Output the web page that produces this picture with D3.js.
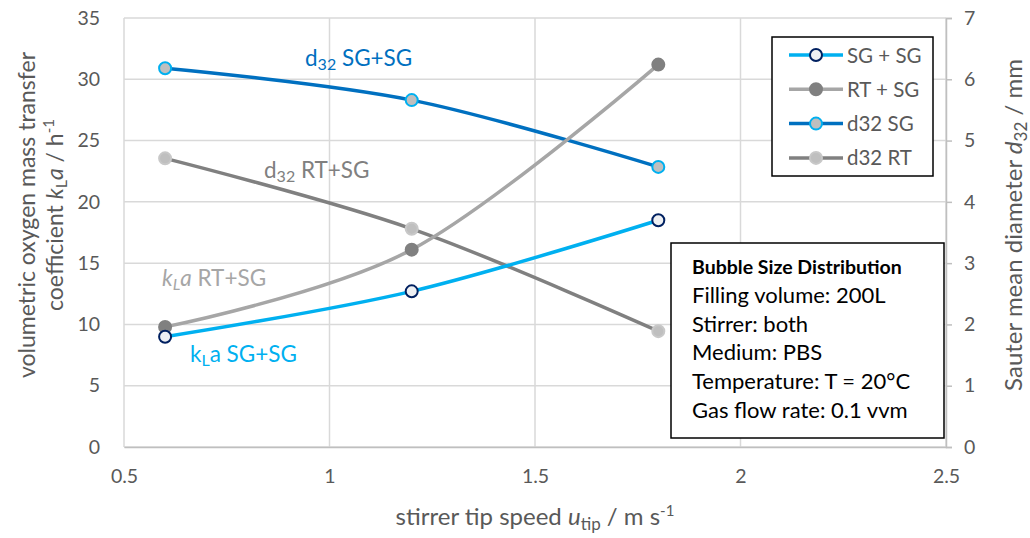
<!DOCTYPE html>
<html>
<head>
<meta charset="utf-8">
<script src="https://cdn.jsdelivr.net/npm/d3@7"></script>
<style>
  body { margin: 0; background: #fff; }
  svg { font-family: Lato, "Open Sans", sans-serif; }
</style>
</head>
<body>
<svg id="chart" width="1030" height="538"></svg>
<script>
// data
const tipSpeed = [0.6, 1.2, 1.8];
const klaSG = [9.0, 12.7, 18.5];     // SG + SG, left axis
const klaRT = [9.8, 16.1, 31.2];     // RT + SG, left axis
const d32SG = [6.18, 5.66, 4.57];    // d32 SG, right axis
const d32RT = [4.71, 3.56, 1.89];    // d32 RT, right axis
const xTicks = [0.5, 1, 1.5, 2, 2.5];
const yLeftTicks = [0, 5, 10, 15, 20, 25, 30, 35];
const yRightTicks = [0, 1, 2, 3, 4, 5, 6, 7];
const infoLines = ["Filling volume: 200L", "Stirrer: both", "Medium: PBS",
  "Temperature: T = 20°C", "Gas flow rate: 0.1 vvm"];

const svg = d3.select("#chart");
const pLeft = 124, pRight = 946, pTop = 18, pBottom = 447;

const x = d3.scaleLinear().domain([0.5, 2.5]).range([pLeft, pRight]);
const yL = d3.scaleLinear().domain([0, 35]).range([pBottom, pTop]);
const yR = d3.scaleLinear().domain([0, 7]).range([pBottom, pTop]);

const grid = "#d9d9d9", txt = "#595959";

// gridlines
svg.append("g").selectAll("line").data(yLeftTicks).join("line")
  .attr("x1", pLeft).attr("x2", pRight)
  .attr("y1", d => yL(d)).attr("y2", d => yL(d))
  .attr("stroke", grid).attr("stroke-width", 1.5);
svg.append("g").selectAll("line").data(xTicks).join("line")
  .attr("x1", d => x(d)).attr("x2", d => x(d))
  .attr("y1", pTop).attr("y2", pBottom)
  .attr("stroke", grid).attr("stroke-width", 1.5);

// axes
const xAxis = svg.append("g").attr("transform", `translate(0,${pBottom})`)
  .call(d3.axisBottom(x).tickValues(xTicks).tickSize(0).tickPadding(22).tickFormat(d3.format("")));
const yAxisL = svg.append("g").attr("transform", `translate(${pLeft},0)`)
  .call(d3.axisLeft(yL).tickValues(yLeftTicks).tickSize(0).tickPadding(24));
const yAxisR = svg.append("g").attr("transform", `translate(${pRight},0)`)
  .call(d3.axisRight(yR).tickValues(yRightTicks).tickSize(6).tickPadding(12).tickFormat(d3.format("d")));
[xAxis, yAxisL, yAxisR].forEach(g => {
  g.selectAll("text").attr("fill", txt).style("font-size", "19.5px")
    .style("font-family", "Lato, 'Open Sans', sans-serif");
  g.selectAll("line").attr("stroke", "#bfbfbf").attr("stroke-width", 1.5);
});
xAxis.select(".domain").attr("stroke", "#bfbfbf").attr("stroke-width", 1.5);
yAxisL.select(".domain").remove();
yAxisR.select(".domain").attr("stroke", "#bfbfbf").attr("stroke-width", 1.5);

// series
const series = [
  { name: "SG + SG", vals: klaSG, y: yL, line: "#00b0f0", fill: "#eef0f3", stroke: "#002060" },
  { name: "RT + SG", vals: klaRT, y: yL, line: "#a6a6a6", fill: "#808080", stroke: "#808080" },
  { name: "d32 SG", vals: d32SG, y: yR, line: "#0070c0", fill: "#bfbfbf", stroke: "#00b0f0" },
  { name: "d32 RT", vals: d32RT, y: yR, line: "#808080", fill: "#bfbfbf", stroke: "#c8c8c8" }
];
const drawOrder = [2, 3, 1, 0];
drawOrder.forEach(i => {
  const s = series[i];
  const pts = tipSpeed.map((t, j) => [x(t), s.y(s.vals[j])]);
  svg.append("path").attr("d", d3.line().curve(d3.curveCardinal.tension(0))(pts))
    .attr("fill", "none").attr("stroke", s.line).attr("stroke-width", 3.5);
  svg.append("g").selectAll("circle").data(pts).join("circle")
    .attr("cx", d => d[0]).attr("cy", d => d[1]).attr("r", 6)
    .attr("fill", s.fill).attr("stroke", s.stroke).attr("stroke-width", 2);
});

// inline labels
function label(xp, yp, color, parts) {
  const t = svg.append("text").attr("x", xp).attr("y", yp).attr("fill", color)
    .style("font-size", "22.5px");
  parts.forEach(p => {
    const ts = t.append("tspan").text(p.t);
    if (p.sub) ts.attr("baseline-shift", "-28%").style("font-size", "16px");
    if (p.it) ts.style("font-style", "italic");
  });
}
label(305, 66, "#0070c0", [{ t: "d" }, { t: "32", sub: true }, { t: " SG+SG" }]);
label(264, 178, "#808080", [{ t: "d" }, { t: "32", sub: true }, { t: " RT+SG" }]);
label(162, 286, "#a6a6a6", [{ t: "k", it: true }, { t: "L", sub: true, it: true }, { t: "a", it: true }, { t: " RT+SG" }]);
label(190, 362, "#00b0f0", [{ t: "k" }, { t: "L", sub: true }, { t: "a SG+SG" }]);

// legend
const lg = svg.append("g");
lg.append("rect").attr("x", 772).attr("y", 37).attr("width", 161).attr("height", 139)
  .attr("fill", "#fff").attr("stroke", "#000").attr("stroke-width", 1.5);
series.forEach((s, i) => {
  const yy = 55 + i * 34.3;
  lg.append("line").attr("x1", 789).attr("x2", 843).attr("y1", yy).attr("y2", yy)
    .attr("stroke", s.line).attr("stroke-width", 3.5);
  lg.append("circle").attr("cx", 816).attr("cy", yy).attr("r", 6)
    .attr("fill", s.fill).attr("stroke", s.stroke).attr("stroke-width", 2);
  lg.append("text").attr("x", 847).attr("y", yy + 7.5).attr("fill", txt)
    .style("font-size", "20.5px").text(s.name);
});

// info box
const ib = svg.append("g");
ib.append("rect").attr("x", 671).attr("y", 243).attr("width", 273).attr("height", 195)
  .attr("fill", "#fff").attr("stroke", "#000").attr("stroke-width", 1.5);
ib.append("text").attr("x", 692).attr("y", 274).attr("fill", "#000")
  .style("font-size", "19.5px").style("font-weight", "bold").text("Bubble Size Distribution");
infoLines.forEach((l, i) => {
  ib.append("text").attr("x", 692).attr("y", 303 + i * 28.7).attr("fill", "#000")
    .style("font-size", "22px").text(l);
});

// axis titles
const xt = svg.append("text").attr("x", 535).attr("y", 525).attr("text-anchor", "middle")
  .attr("fill", txt).style("font-size", "24px");
xt.append("tspan").text("stirrer tip speed ");
xt.append("tspan").text("u").style("font-style", "italic");
xt.append("tspan").text("tip").attr("baseline-shift", "-28%").style("font-size", "17px");
xt.append("tspan").text(" / m s");
xt.append("tspan").text("-1").attr("baseline-shift", "super").style("font-size", "15px");

const ylt = svg.append("g").attr("transform", "translate(0,215) rotate(-90)");
ylt.append("text").attr("x", 0).attr("y", 35).attr("text-anchor", "middle")
  .attr("fill", txt).style("font-size", "23px").text("volumetric oxygen mass transfer");
const ylt2 = ylt.append("text").attr("x", 0).attr("y", 63).attr("text-anchor", "middle")
  .attr("fill", txt).style("font-size", "23px");
ylt2.append("tspan").text("coefficient ");
ylt2.append("tspan").text("k").style("font-style", "italic");
ylt2.append("tspan").text("L").attr("baseline-shift", "-28%").style("font-size", "16px");
ylt2.append("tspan").text("a").style("font-style", "italic");
ylt2.append("tspan").text(" / h");
ylt2.append("tspan").text("-1").attr("baseline-shift", "super").style("font-size", "15px");

const yrt = svg.append("text").attr("transform", "translate(1022,225) rotate(-90)")
  .attr("text-anchor", "middle").attr("fill", txt).style("font-size", "24px");
yrt.append("tspan").text("Sauter mean diameter ");
yrt.append("tspan").text("d").style("font-style", "italic");
yrt.append("tspan").text("32").attr("baseline-shift", "-28%").style("font-size", "17px");
yrt.append("tspan").text(" / mm");
</script>
</body>
</html>
